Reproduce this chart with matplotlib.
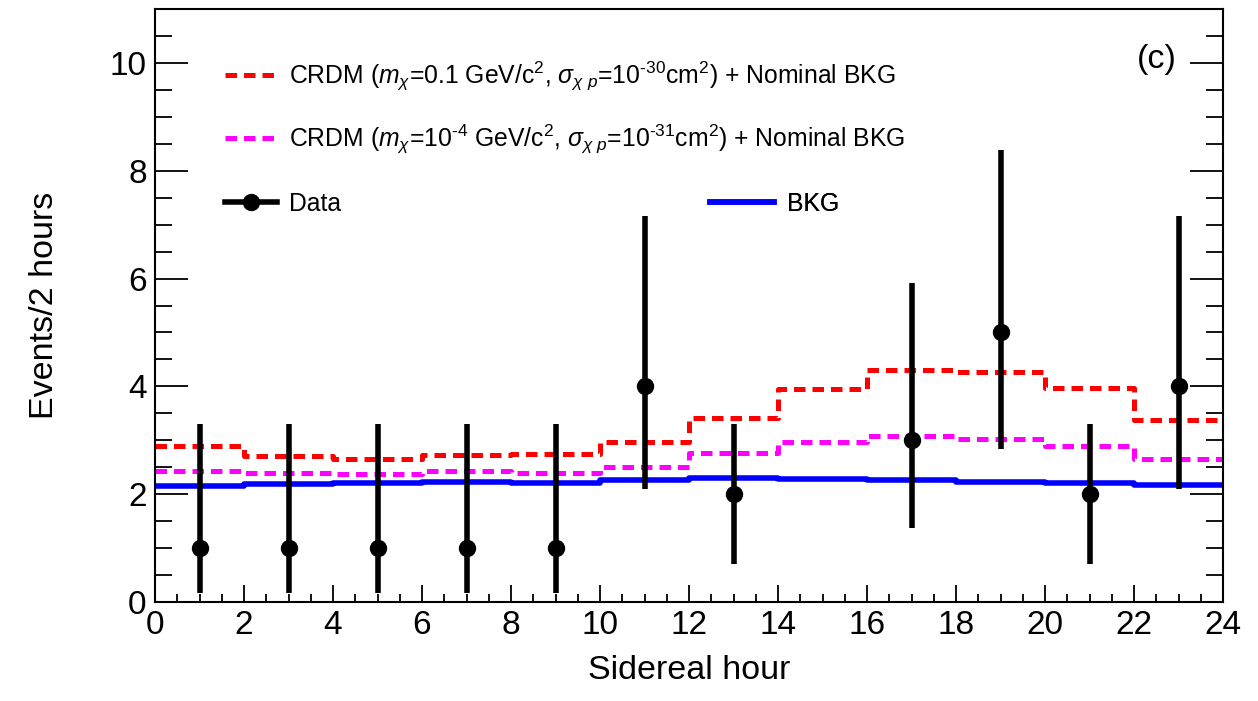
import numpy as np
import matplotlib
matplotlib.use("Agg")
import matplotlib.pyplot as plt
from matplotlib.lines import Line2D
from matplotlib.ticker import MultipleLocator

plt.rcParams['font.family'] = ['Liberation Sans', 'DejaVu Sans']
plt.rcParams['mathtext.fontset'] = 'custom'
plt.rcParams['mathtext.rm'] = 'Liberation Sans'
plt.rcParams['mathtext.it'] = 'Liberation Sans:italic'
plt.rcParams['mathtext.bf'] = 'Liberation Sans:bold'

# ---- data ----
bin_edges = [0, 2, 4, 6, 8, 10, 12, 14, 16, 18, 20, 22, 24]
crdm_01 = [2.90, 2.71, 2.66, 2.73, 2.75, 2.96, 3.41, 3.96, 4.31, 4.27, 3.97, 3.38]
crdm_1e4 = [2.43, 2.40, 2.38, 2.43, 2.40, 2.51, 2.76, 2.96, 3.07, 3.03, 2.90, 2.66]
bkg = [2.16, 2.18, 2.21, 2.23, 2.20, 2.26, 2.30, 2.28, 2.26, 2.22, 2.20, 2.17]

data_x = [1, 3, 5, 7, 9, 11, 13, 17, 19, 21, 23]
data_y = [1, 1, 1, 1, 1, 4, 2, 3, 5, 2, 4]
data_lo = [0.17, 0.17, 0.17, 0.17, 0.17, 2.09, 0.71, 1.37, 2.84, 0.71, 2.09]
data_hi = [3.30, 3.30, 3.30, 3.30, 3.30, 7.16, 3.30, 5.92, 8.38, 3.30, 7.16]

label_red = "CRDM ($m_{\\chi}$=0.1 GeV/c$^{2}$, $\\sigma_{\\chi\\ p}$=10$^{\u201030}$cm$^{2}$) + Nominal BKG"
label_mag = "CRDM ($m_{\\chi}$=10$^{\u20104}$ GeV/c$^{2}$, $\\sigma_{\\chi\\ p}$=10$^{\u201031}$cm$^{2}$) + Nominal BKG"
label_data = "Data"
label_bkg = "BKG"

W, H = 1258, 701
fig = plt.figure(figsize=(W / 100, H / 100), dpi=100)
ax = fig.add_axes([155 / W, 1 - 602 / H, (1223 - 155) / W, (602 - 9) / H])

edges = np.array(bin_edges, dtype=float)

def steps(vals):
    v = np.asarray(vals, dtype=float)
    return edges, np.append(v, v[-1])

lw_d = 3.6
dash = (2.3, 1.4)
ex, ey = steps(crdm_01)
ax.step(ex, ey, where='post', color='#ff0000', lw=lw_d, dashes=dash)
ex, ey = steps(crdm_1e4)
ax.step(ex, ey, where='post', color='#ff00ff', lw=lw_d, dashes=dash)
ex, ey = steps(bkg)
ax.step(ex, ey, where='post', color='#0000ff', lw=4.0)

dy = np.asarray(data_y, float)
yerr = [dy - np.asarray(data_lo), np.asarray(data_hi) - dy]
ax.errorbar(data_x, data_y, yerr=yerr, fmt='o', color='black', ms=11.5,
            elinewidth=4.0, capsize=0, zorder=5)

ax.set_xlim(0, 24)
ax.set_ylim(0, 11)
ax.xaxis.set_major_locator(MultipleLocator(2))
ax.xaxis.set_minor_locator(MultipleLocator(0.5))
ax.yaxis.set_major_locator(MultipleLocator(2))
ax.yaxis.set_minor_locator(MultipleLocator(0.5))
ax.tick_params(axis='x', which='major', direction='in', length=12, width=1.3,
               labelsize=24, pad=6, top=False)
ax.tick_params(axis='x', which='minor', direction='in', length=6, width=1.3, top=False)
ax.tick_params(axis='y', which='major', direction='in', length=24, width=1.3,
               labelsize=24, pad=6, right=True)
ax.tick_params(axis='y', which='minor', direction='in', length=12, width=1.3, right=True)
for s in ax.spines.values():
    s.set_linewidth(1.5)

ax.set_xlabel("Sidereal hour", fontsize=24.5, labelpad=10)
ax.set_ylabel("Events/2 hours", fontsize=24.5, labelpad=36)

ax.text(0.957, 0.915, "(c)", transform=ax.transAxes, fontsize=24.5,
        ha='right', va='center')

h_data = Line2D([], [], color='black', lw=4.0, marker='o', ms=11.5)
h_red = Line2D([], [], color='#ff0000', lw=lw_d, dashes=dash)
h_mag = Line2D([], [], color='#ff00ff', lw=lw_d, dashes=dash)
h_bkg = Line2D([], [], color='#0000ff', lw=4.0)

axh = 593.0
def row_y(py):
    return 1 - (py - 9) / axh

entries = [
    (h_red, label_red, 0.0655, row_y(76), 2.1),
    (h_mag, label_mag, 0.0655, row_y(139), 2.1),
    (h_data, label_data, 0.0655, row_y(204), 2.1),
    (h_bkg, label_bkg, 0.5197, row_y(204), 2.6),
]
for h, lab, x0, y0, hl in entries:
    lg = ax.legend([h], [lab], loc='center left', bbox_to_anchor=(x0, y0),
                   frameon=False, fontsize=17.8, handlelength=hl,
                   handletextpad=0.5, borderpad=0, borderaxespad=0)
    ax.add_artist(lg)

fig.savefig("out.png", dpi=100)
